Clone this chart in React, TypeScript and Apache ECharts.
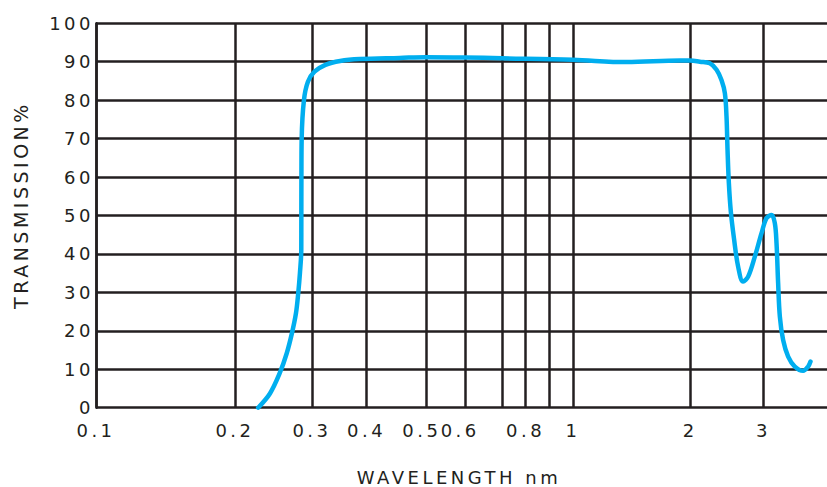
import { useEffect, useRef } from "react";
import * as echarts from "echarts";

// ---- data ----
// wavelength (as labelled on the axis) and transmission (%)
const wavelength = [
  0.226, 0.2405, 0.253, 0.2626, 0.27, 0.2758, 0.2791, 0.2816, 0.2836, 0.2837,
  0.2838, 0.2842, 0.2876, 0.2937, 0.304, 0.322, 0.348, 0.386, 0.453, 0.5,
  0.6, 0.7, 1.0, 1.373, 1.882, 2.0, 2.11, 2.23, 2.314, 2.379, 2.423, 2.445,
  2.459, 2.477, 2.504, 2.548, 2.607, 2.68, 2.755, 2.859, 2.967, 3.05, 3.136,
  3.193, 3.223, 3.252, 3.283, 3.343, 3.437, 3.566, 3.734, 3.838, 3.889,
];
const transmission = [
  0, 3.7, 8.9, 14.1, 19.4, 24.6, 29.8, 35.0, 41.0, 50.0,
  60.0, 70.0, 80.0, 84.8, 87.4, 89.2, 90.2, 90.7, 91.0, 91.2,
  91.1, 90.9, 90.5, 89.9, 90.3, 90.3, 90.0, 89.6, 87.9, 85.2, 81.8, 75.7,
  67.0, 58.4, 51.0, 44.0, 36.7, 32.8, 34.1, 39.3, 45.4, 49.3, 50.1,
  48.0, 42.8, 32.4, 23.7, 17.6, 13.3, 10.7, 9.6, 10.7, 12.0,
];

// x grid lines (hand-drawn logarithmic wavelength scale) and their labels
const xGridValues = [0.1, 0.2, 0.3, 0.4, 0.5, 0.6, 0.7, 0.8, 0.9, 1, 2, 3];
const xGridLabels = ["0.1", "0.2", "0.3", "0.4", "0.5", "0.6", "", "0.8", "", "1", "2", "3"];
const xMaxWavelength = 4.26;

const yMin = 0;
const yMax = 100;
const yInterval = 10;

const xTitle = "WAVELENGTH nm";
const yTitle = "TRANSMISSION%";

// ---- scale calibration of the printed (non-uniform) log axis ----
const xScalePos = [0, 139, 216, 270.7, 330, 369.3, 406, 429.7, 453.7, 477, 594.3, 667.7];

function warp(l: number): number {
  const lg = Math.log10(l);
  const L = xGridValues.map((v) => Math.log10(v));
  let i = 0;
  while (i < L.length - 2 && lg > L[i + 1]) i++;
  const t = (lg - L[i]) / (L[i + 1] - L[i]);
  return xScalePos[i] + t * (xScalePos[i + 1] - xScalePos[i]);
}

const INK = "#231f20";
const FONT = "DejaVu Sans, Verdana, sans-serif";

export default function App() {
  const ref = useRef<HTMLDivElement>(null);

  useEffect(() => {
    if (!ref.current) return;
    const chart = echarts.init(ref.current, null, { renderer: "svg" });

    const tickPos = xGridValues.map(warp);
    const labelPos = xGridValues.filter((_, i) => xGridLabels[i] !== "").map(warp);

    chart.setOption({
      animation: false,
      backgroundColor: "#ffffff",
      grid: {
        left: 96,
        right: 0,
        top: 23.3,
        bottom: 79.3,
        containLabel: false,
        outerBoundsMode: "none",
      },
      xAxis: {
        type: "value",
        min: 0,
        max: warp(xMaxWavelength),
        axisLine: { show: false },
        splitLine: { show: false },
        axisTick: {
          show: true,
          inside: true,
          length: 384.4,
          customValues: tickPos,
          lineStyle: { color: INK, width: 2.5 },
        },
        axisLabel: {
          customValues: labelPos,
          margin: 14,
          color: INK,
          fontSize: 18,
          fontFamily: FONT,
          formatter: (v: number) => {
            const i = xGridValues.findIndex((g) => Math.abs(warp(g) - v) < 0.01);
            const s = i >= 0 ? xGridLabels[i] : "";
            if (s === "0.5") return "{a|0.5}";
            if (s === "0.6") return "{b|0.6}";
            return s;
          },
          rich: {
            a: { fontSize: 18, fontFamily: FONT, color: INK, padding: [0, 8, 0, 0] },
            b: { fontSize: 18, fontFamily: FONT, color: INK, padding: [0, 10, 0, 0] },
          },
        },
      },
      yAxis: {
        type: "value",
        min: yMin,
        max: yMax,
        interval: yInterval,
        axisLine: { show: true, lineStyle: { color: INK, width: 2.5 } },
        axisTick: { show: false },
        splitLine: { show: true, lineStyle: { color: INK, width: 2.5 } },
        axisLabel: {
          margin: 2,
          color: INK,
          fontSize: 18,
          fontFamily: FONT,
        },
      },
      graphic: [
        {
          type: "text",
          x: 459,
          y: 477.5,
          style: {
            text: xTitle,
            fill: INK,
            fontSize: 18,
            fontFamily: FONT,
            align: "center",
            verticalAlign: "middle",
          },
        },
        {
          type: "text",
          x: 21,
          y: 205,
          rotation: Math.PI / 2,
          style: {
            text: yTitle,
            fill: INK,
            fontSize: 19,
            fontFamily: FONT,
            align: "center",
            verticalAlign: "middle",
          },
        },
      ],
      series: [
        {
          type: "line",
          data: wavelength.map((l, i) => [warp(l), transmission[i]]),
          showSymbol: false,
          smooth: 0.35,
          clip: false,
          z: 5,
          lineStyle: { color: "#00aeef", width: 4.5, cap: "round", join: "round" },
        },
      ],
    });

    return () => chart.dispose();
  }, []);

  return (
    <>
      <style>{`.ec-wrap text { letter-spacing: 3.5px; }`}</style>
      <div
        ref={ref}
        className="ec-wrap"
        style={{ position: "absolute", left: 0, top: 0, width: 827, height: 487 }}
      />
    </>
  );
}
